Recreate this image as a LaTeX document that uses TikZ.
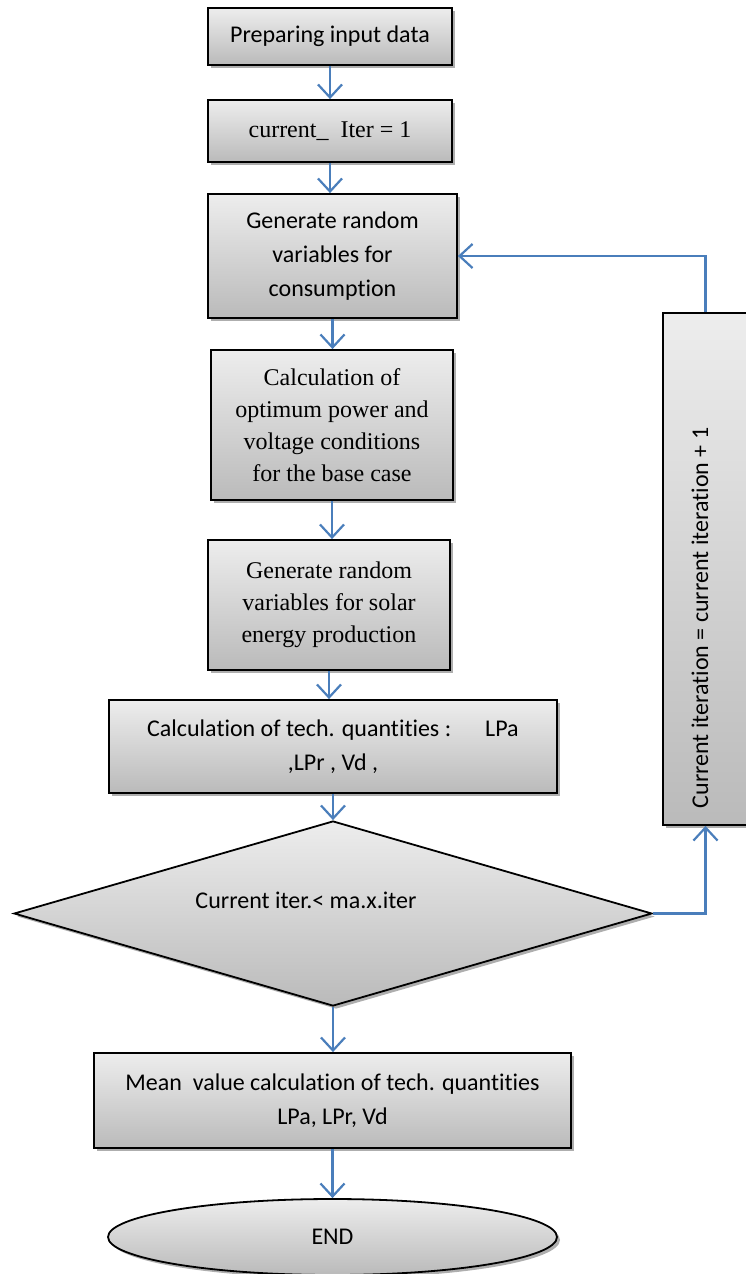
\documentclass[tikz,border=0pt]{standalone}
\usepackage{fontspec}
\setmainfont{Carlito}[Ligatures=NoCommon]
\newfontfamily\serifrm{Liberation Serif}
\usepackage{tikz}
\usetikzlibrary{positioning,arrows.meta,shapes.geometric,shadows}
\definecolor{linkblue}{HTML}{4A7EBB}
\tikzset{
    stepbox/.style={draw=black, line width=1.8pt, top color=black!7, bottom color=black!27,
        align=center, inner sep=0pt,
        drop shadow={shadow xshift=3pt, shadow yshift=-3pt, fill=black!45, opacity=0.7},
        font=\fontsize{24}{34}\selectfont},
    serifbox/.style={stepbox, font=\serifrm\fontsize{24}{32}\selectfont},
    flow/.style={draw=linkblue, line width=2.4pt, -{Straight Barb[length=13pt,width=24pt,line width=2.2pt]}}
}

\begin{document}
\begin{tikzpicture}[x=1pt,y=-1pt]
                    \useasboundingbox (0,0) rectangle (745,1274);

                    \node[stepbox, minimum width=244pt, minimum height=57pt] (input) at (330,36.5) {Preparing input data};

                    \node[serifbox, minimum width=244pt, minimum height=62pt] (iter) at (330,131) {current\_\ \ Iter = 1};

                    \node[stepbox, minimum width=249pt, minimum height=124pt] (consum) at (332.5,256) {Generate random\\variables for\\consumption};

                    \node[serifbox, minimum width=242pt, minimum height=150pt] (optim) at (332,425) {Calculation of\\optimum power and\\voltage conditions\\for the base case};

                    \node[serifbox, minimum width=242pt, minimum height=130pt] (solar) at (329,605) {Generate random\\variables for solar\\energy production};

                    \node[stepbox, minimum width=448pt, minimum height=93pt] (techq) at (333,746.5) {Calculation of tech. quantities :\hspace{34pt}LPa\\,LPr , Vd ,};

                    \node[stepbox, shape=diamond, minimum width=638pt, minimum height=185pt] (check) at (333,913.5) {};
                    \node[font=\fontsize{24}{34}\selectfont] (checktext) at (306,900) {Current iter.< ma.x.iter};

                    \node[stepbox, minimum width=477pt, minimum height=95pt] (mean) at (332.5,1100.5) {Mean\ \ value calculation of tech. quantities\\LPa, LPr, Vd};

                    \node[stepbox, shape=ellipse, minimum width=449pt, minimum height=76pt] (finish) at (332.5,1237) {END};

                    \node[stepbox, minimum width=85pt, minimum height=512pt] (incr) at (705.5,569) {};
                    \node[rotate=90, font=\fontsize{24}{34}\selectfont] (incrtext) at (700,618) {Current iteration = current iteration + 1};

                    \draw[flow] (input.south) -- (input.south |- iter.north);
                    \draw[flow] (iter.south) -- (iter.south |- consum.north);
                    \draw[flow] (consum.south) -- (consum.south |- optim.north);
                    \draw[flow] (optim.south) -- (optim.south |- solar.north);
                    \draw[flow] (solar.south) -- (solar.south |- techq.north);
                    \draw[flow] (techq.south) -- (check.north);
                    \draw[flow] (check.south) -- (mean.north -| check.south);
                    \draw[flow] (mean.south) -- (finish.north);

                    \draw[flow] (check.east) -| (incr.south);
                    \draw[flow] (incr.north) |- (consum.east);
                  \end{tikzpicture}
\end{document}
